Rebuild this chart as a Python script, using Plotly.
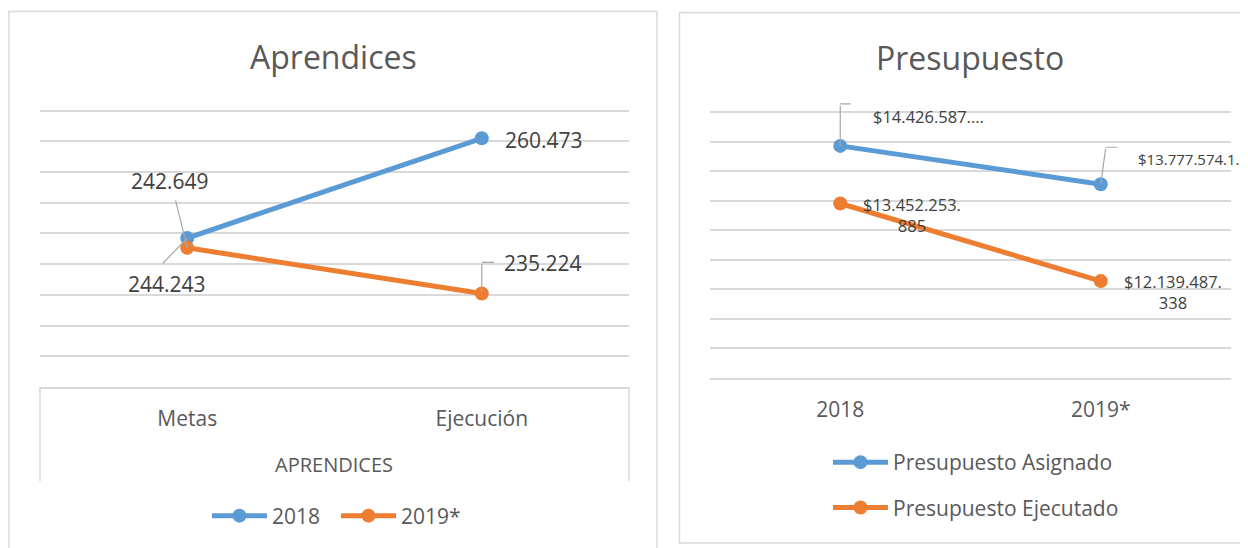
import plotly.graph_objects as go

# page body has an 8px margin: the figure is drawn from (8, 8)
OFF = 8
W, H = 1248 - OFF, 548 - OFF
BLUE = "#5B9BD5"
ORANGE = "#ED7D31"
GRID = "#D9D9D9"
TXT = "#404040"
TXT2 = "#595959"
LEAD = "#A6A6A6"
FONT = "Open Sans"

# ---------------- data ----------------
apr_categories = ["Metas", "Ejecución"]
apr_series = ["2018", "2019*"]
apr_2018 = [244243, 260473]
apr_2019 = [242649, 235224]
apr_group = "APRENDICES"
apr_axis = [220000, 265000, 5000]          # min, max, step of value axis

pre_categories = ["2018", "2019*"]
pre_series = ["Presupuesto Asignado", "Presupuesto Ejecutado"]
pre_asignado = [14426587000, 13777574100]
pre_ejecutado = [13452253885, 12139487338]
pre_labels_asignado = ["$14.426.587.…", "$13.777.574.1…"]
pre_labels_ejecutado = ["$13.452.253.<br>885", "$12.139.487.<br>338"]
pre_axis = [10.5e9, 15e9, 0.5e9]


def px(x):
    return (x - OFF) / W


def py(y):
    return 1 - (y - OFF) / H


def fmt(v):
    return f"{v:,}".replace(",", ".")


fig = go.Figure()

# ---------------- traces ----------------
for name, vals, col in [(apr_series[0], apr_2018, BLUE), (apr_series[1], apr_2019, ORANGE)]:
    fig.add_trace(go.Scatter(
        x=apr_categories, y=vals, name=name, mode="lines+markers",
        line=dict(color=col, width=5), marker=dict(color=col, size=14),
        xaxis="x", yaxis="y", legend="legend", hoverinfo="skip"))

for i, (name, vals, col) in enumerate([(pre_series[0], pre_asignado, BLUE),
                                       (pre_series[1], pre_ejecutado, ORANGE)]):
    fig.add_trace(go.Scatter(
        x=pre_categories, y=vals, name=name, mode="lines+markers",
        line=dict(color=col, width=5), marker=dict(color=col, size=14),
        xaxis="x2", yaxis="y2", legend="legend2", legendgroup=f"g{i}",
        hoverinfo="skip"))

ann = []


def label(xr, yr, x, y, text, xs, ys, size, xanchor="center"):
    ann.append(dict(xref=xr, yref=yr, x=x, y=y, text=text, showarrow=False,
                    xshift=xs, yshift=ys, xanchor=xanchor, yanchor="middle",
                    font=dict(family=FONT, size=size, color=TXT)))


def leader(xr, yr, x, y, ax, ay, xs=0, ys=0):
    ann.append(dict(xref=xr, yref=yr, x=x, y=y, text="", showarrow=True,
                    arrowhead=0, arrowwidth=1.2, arrowcolor=LEAD,
                    axref="pixel", ayref="pixel", ax=ax, ay=ay,
                    xshift=xs, yshift=ys, standoff=0, startstandoff=0))


# Aprendices labels (x given as category index)
label("x", "y", 1, apr_2018[1], fmt(apr_2018[1]), 62, -2, 21)
label("x", "y", 0, apr_2018[0], fmt(apr_2018[0]), -20, -46, 21)
leader("x", "y", 0, apr_2018[0], -26, 27)
label("x", "y", 0, apr_2019[0], fmt(apr_2019[0]), -17, 67, 21)
leader("x", "y", 0, apr_2019[0], -12, -49)
label("x", "y", 1, apr_2019[1], fmt(apr_2019[1]), 61, 30, 21)
leader("x", "y", 1, apr_2019[1], 0, -31)
leader("x", "y", 1, apr_2019[1], 14, 0, 0, 31)

# Presupuesto labels
LBL = 16.5
label("x2", "y2", 0, pre_asignado[0], pre_labels_asignado[0], 31, 29, LBL, "left")
leader("x2", "y2", 0, pre_asignado[0], 0, -42)
leader("x2", "y2", 0, pre_asignado[0], 12, 0, 0, 42)
label("x2", "y2", 1, pre_asignado[1], pre_labels_asignado[1], 35, 25, 15, "left")
leader("x2", "y2", 1, pre_asignado[1], 5, -37)
leader("x2", "y2", 1, pre_asignado[1], 13, 0, 5, 37)
label("x2", "y2", 0, pre_ejecutado[0], pre_labels_ejecutado[0], 72, -12, LBL)
label("x2", "y2", 1, pre_ejecutado[1], pre_labels_ejecutado[1], 72, -11, LBL)

# titles and group label
ann.append(dict(xref="paper", yref="paper", x=px(333), y=py(56), text="Aprendices",
                showarrow=False, xanchor="center", yanchor="middle",
                font=dict(family=FONT, size=32, color=TXT2)))
ann.append(dict(xref="paper", yref="paper", x=px(970), y=py(58), text="Presupuesto",
                showarrow=False, xanchor="center", yanchor="middle",
                font=dict(family=FONT, size=32, color=TXT2)))
ann.append(dict(xref="paper", yref="paper", x=px(334), y=py(464), text=apr_group,
                showarrow=False, xanchor="center", yanchor="middle",
                font=dict(family=FONT, size=20, color=TXT2)))

shapes = [
    # panel borders
    dict(type="rect", xref="paper", yref="paper", x0=px(9), x1=px(657), y0=-0.05, y1=py(11.5),
         line=dict(color=GRID, width=1.5), layer="below"),
    dict(type="rect", xref="paper", yref="paper", x0=px(679.5), x1=1.05, y0=py(543), y1=py(12.5),
         line=dict(color=GRID, width=1.5), layer="below"),
    # category axis box sides (left)
    dict(type="line", xref="x domain", yref="paper", x0=0, x1=0, y0=py(481), y1=py(387),
         line=dict(color=GRID, width=1.5)),
    dict(type="line", xref="x domain", yref="paper", x0=1, x1=1, y0=py(481), y1=py(387),
         line=dict(color=GRID, width=1.5)),
]

axis_font = dict(family=FONT, size=21, color=TXT2)

# value axes: extend the top a few pixels so the top gridline is drawn inside the plot
PAD = 5  # px
apr_ppu = (387 - 110.5) / (apr_axis[1] - apr_axis[0])
pre_ppu = (378 - 112) / (pre_axis[1] - pre_axis[0])

fig.update_layout(
    width=W, height=H, margin=dict(l=0, r=0, t=0, b=0),
    paper_bgcolor="white", plot_bgcolor="white",
    annotations=ann, shapes=shapes, showlegend=True,
    xaxis=dict(domain=[px(40), px(629)], range=[-0.5, 1.5], type="category",
               showgrid=False, zeroline=False, showline=True, linecolor=GRID, linewidth=1.5,
               ticks="", ticklabelstandoff=12, tickfont=axis_font, anchor="y",
               fixedrange=True),
    yaxis=dict(domain=[py(387), py(110.5 - PAD)],
               range=[apr_axis[0], apr_axis[1] + PAD / apr_ppu], dtick=apr_axis[2],
               tick0=apr_axis[0], showgrid=True, gridcolor=GRID, gridwidth=1.5, zeroline=False,
               showticklabels=False, ticks="", showline=False, anchor="x", fixedrange=True),
    xaxis2=dict(domain=[px(710), px(1231)], range=[-0.5, 1.5], type="category",
                showgrid=False, zeroline=False, showline=True, linecolor=GRID, linewidth=1.5,
                ticks="", ticklabelstandoff=12, tickfont=axis_font, anchor="y2",
                fixedrange=True),
    yaxis2=dict(domain=[py(378), py(112 - PAD)],
                range=[pre_axis[0], pre_axis[1] + PAD / pre_ppu], dtick=pre_axis[2],
                tick0=pre_axis[0], showgrid=True, gridcolor=GRID, gridwidth=1.5, zeroline=False,
                showticklabels=False, ticks="", showline=False, anchor="x2", fixedrange=True),
    legend=dict(orientation="h", x=px(336), xanchor="center", y=py(516), yanchor="middle",
                font=dict(family=FONT, size=21, color=TXT2), itemwidth=55,
                entrywidth=59, bgcolor="rgba(0,0,0,0)"),
    legend2=dict(orientation="v", x=px(828), xanchor="left", y=py(485), yanchor="middle",
                 font=dict(family=FONT, size=21, color=TXT2), itemwidth=55,
                 tracegroupgap=15, traceorder="grouped", bgcolor="rgba(0,0,0,0)"),
)

fig.write_html("out.html")
